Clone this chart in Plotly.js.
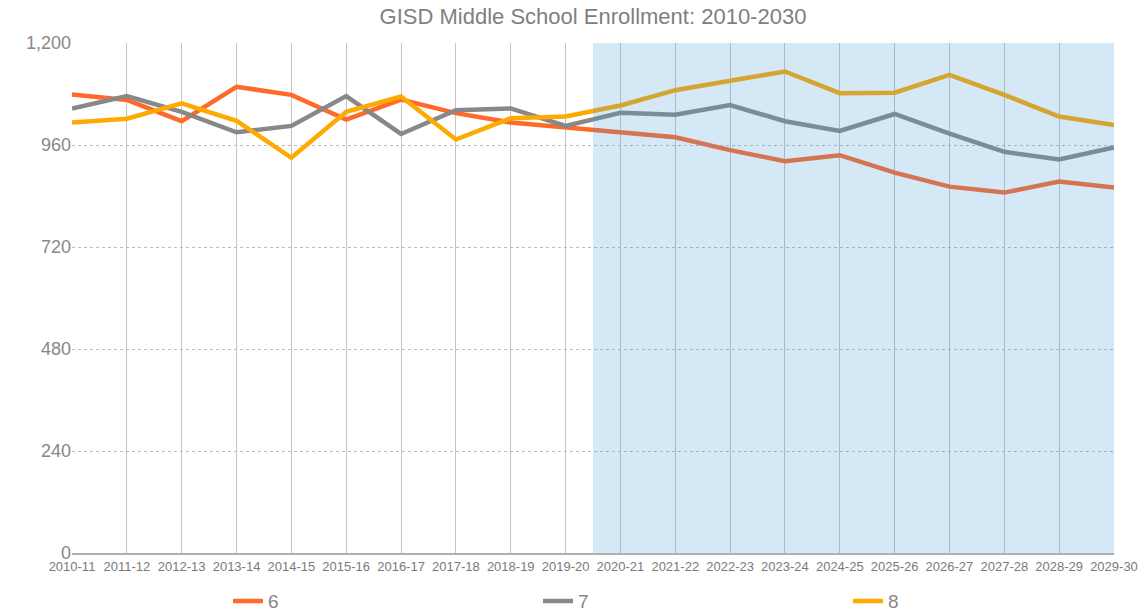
<!DOCTYPE html>
<html>
<head>
<meta charset="utf-8">
<script src="https://cdn.plot.ly/plotly-3.0.1.min.js"></script>
<style>html,body{margin:0;padding:0;background:#fff;}#chart{width:1146px;height:616px;}</style>
</head>
<body>
<div id="chart"></div>
<script>
const years = ["2010-11","2011-12","2012-13","2013-14","2014-15","2015-16","2016-17","2017-18","2018-19","2019-20",
               "2020-21","2021-22","2022-23","2023-24","2024-25","2025-26","2026-27","2027-28","2028-29","2029-30"];
const grade6 = [1079,1066,1016,1097,1078,1020,1067,1035,1013,1001,991,978,948,922,936,895,862,848,874,860];
const grade7 = [1046,1075,1038,990,1005,1075,986,1042,1046,1005,1036,1031,1054,1016,993,1033,987,944,926,954];
const grade8 = [1013,1022,1058,1017,930,1038,1074,973,1023,1027,1053,1089,1111,1133,1082,1083,1125,1078,1027,1007];
const seriesNames = ["6","7","8"];
const seriesColors = ["#ff6a2a","#888888","#ffaa00"];
const yTicks = [0,240,480,720,960,1200];
const projectionStart = 9.5; // shaded projection window starts between 2019-20 and 2020-21

const legendIds = ["legend", "legend2", "legend3"];
const legendX = [228, 538, 848]; // pixel left edges of the three legend entries

const idx = years.map((_, i) => i);
const traces = [grade6, grade7, grade8].map((vals, k) => ({
  type: "scatter", mode: "lines", x: idx, y: vals, name: seriesNames[k],
  line: {color: seriesColors[k], width: 4.5},
  legend: legendIds[k],
  hoverinfo: "x+y"
}));

const layout = {
  width: 1146, height: 616,
  margin: {l: 72, r: 32, t: 43, b: 63},
  paper_bgcolor: "#ffffff", plot_bgcolor: "#ffffff",
  font: {family: "Liberation Sans, Arial, sans-serif", color: "#808080"},
  title: {text: "GISD Middle School Enrollment: 2010-2030", font: {size: 22, color: "#808080"},
          xref: "paper", x: 0.5, xanchor: "center", y: 0.974, yanchor: "middle"},
  xaxis: {
    range: [0, years.length - 1], tickmode: "array", tickvals: idx, ticktext: years,
    showgrid: true, gridcolor: "#c4c4c4", gridwidth: 1,
    showline: true, linecolor: "#b0b0b0", linewidth: 2,
    zeroline: false, ticks: "", tickfont: {size: 13, color: "#7a7a7a"}, tickangle: 0,
    fixedrange: true
  },
  yaxis: {
    range: [0, 1200], tickmode: "array", tickvals: yTicks, tickformat: ",",
    showgrid: true, gridcolor: "#bdbdbd", griddash: "dot", gridwidth: 1,
    showline: false, zeroline: false, ticks: "", ticklen: 0,
    tickfont: {size: 18, color: "#888888"}, fixedrange: true
  },
  shapes: [{
    type: "rect", xref: "x", yref: "y", x0: projectionStart, x1: years.length - 1, y0: 0, y1: 1200,
    fillcolor: "rgba(71,154,211,0.23)", line: {width: 0}, layer: "above"
  }],
  showlegend: true
};
legendIds.forEach((id, k) => {
  layout[id] = {orientation: "h", xref: "container", yref: "container",
                x: legendX[k] / 1146, xanchor: "left", y: 0.024, yanchor: "middle",
                bgcolor: "rgba(0,0,0,0)", font: {size: 19, color: "#888888"}};
});
Plotly.newPlot("chart", traces, layout, {displayModeBar: false, staticPlot: true});
</script>
</body>
</html>
